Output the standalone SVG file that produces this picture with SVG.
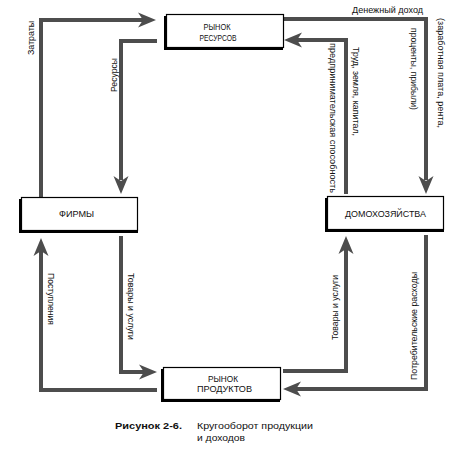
<svg xmlns="http://www.w3.org/2000/svg" xmlns:xlink="http://www.w3.org/1999/xlink" width="457" height="451" viewBox="0 0 457 451">
<style>
.bg{fill:#ffffff}
.shadow{fill:#000000}
.box{fill:#ffffff;stroke:#000000;stroke-width:1.2}
.flow{fill:none;stroke:#4d4d4d;stroke-width:4;stroke-linejoin:miter;stroke-linecap:butt}
.head{fill:#4d4d4d}
.t{font-family:"Liberation Sans",Arial,sans-serif;font-size:9px;fill:#111111}
.n{font-family:"Liberation Sans",Arial,sans-serif;font-size:9px;fill:#111111;text-anchor:middle}
.cap{font-family:"Liberation Sans",Arial,sans-serif;font-size:9.5px;fill:#111111}
.capb{font-family:"Liberation Sans",Arial,sans-serif;font-size:9.5px;font-weight:bold;fill:#111111}
</style>
<defs>
<path id="ah" d="M0,0 L-18,-7.5 L-13,0 L-18,7.5 Z"/>
</defs>
<rect class="bg" x="0" y="0" width="457" height="451"/>

<g id="connectors">
  <path class="flow" d="M41,197 V20 H143"/>
  <use xlink:href="#ah" class="head" transform="translate(156,20)"/>
  <path class="flow" d="M157,41 H121 V180"/>
  <use xlink:href="#ah" class="head" transform="translate(121,194) rotate(90)"/>
  <path class="flow" d="M283,19 H426 V180"/>
  <use xlink:href="#ah" class="head" transform="translate(426,194) rotate(90)"/>
  <path class="flow" d="M346,194 V40 H297"/>
  <use xlink:href="#ah" class="head" transform="translate(284,40) rotate(180)"/>
  <path class="flow" d="M157,390 H41 V251"/>
  <use xlink:href="#ah" class="head" transform="translate(41,238) rotate(-90)"/>
  <path class="flow" d="M121,236 V372 H144"/>
  <use xlink:href="#ah" class="head" transform="translate(157,372) rotate(0)"/>
  <path class="flow" d="M283,371 H346 V249"/>
  <use xlink:href="#ah" class="head" transform="translate(346,236) rotate(-90)"/>
  <path class="flow" d="M426,235 V389 H296"/>
  <use xlink:href="#ah" class="head" transform="translate(283,389) rotate(180)"/>

  <text class="t" transform="translate(34,55) rotate(-90)" textLength="34" lengthAdjust="spacingAndGlyphs">Затраты</text>
  <text class="t" transform="translate(117,92) rotate(-90)" textLength="34" lengthAdjust="spacingAndGlyphs">Ресурсы</text>
  <text class="t" x="352" y="13" textLength="71" lengthAdjust="spacingAndGlyphs">Денежный доход</text>
  <text class="t" transform="translate(438,18) rotate(90)" textLength="110" lengthAdjust="spacingAndGlyphs">(заработная плата, рента,</text>
  <text class="t" transform="translate(411,28) rotate(90)" textLength="82" lengthAdjust="spacingAndGlyphs">проценты, прибыли)</text>
  <text class="t" transform="translate(353,47) rotate(90)" textLength="89" lengthAdjust="spacingAndGlyphs">Труд, земля, капитал,</text>
  <text class="t" transform="translate(330,43) rotate(90)" textLength="150" lengthAdjust="spacingAndGlyphs">предпринимательская способность</text>
  <text class="t" transform="translate(48,273) rotate(90)" textLength="52" lengthAdjust="spacingAndGlyphs">Поступления</text>
  <text class="t" transform="translate(128,273) rotate(90)" textLength="67" lengthAdjust="spacingAndGlyphs">Товары и услуги</text>
  <text class="t" transform="translate(338,340) rotate(-90)" textLength="65" lengthAdjust="spacingAndGlyphs">Товары и услуги</text>
  <text class="t" transform="translate(417,380) rotate(-90)" textLength="108" lengthAdjust="spacingAndGlyphs">Потребительские расходы</text>
</g>

<g id="resource-market">
  <rect class="shadow" x="164" y="16" width="119" height="34"/>
  <rect class="box" x="166.5" y="14.5" width="117" height="33"/>
  <text class="n" x="217" y="30" textLength="27" lengthAdjust="spacingAndGlyphs">РЫНОК</text>
  <text class="n" x="218" y="40.5" textLength="37" lengthAdjust="spacingAndGlyphs">РЕСУРСОВ</text>
</g>

<g id="firms">
  <rect class="shadow" x="19" y="199" width="119" height="34"/>
  <rect class="box" x="21.5" y="197.5" width="116" height="33"/>
  <text class="n" x="76.5" y="216.5" textLength="35" lengthAdjust="spacingAndGlyphs">ФИРМЫ</text>
</g>

<g id="households">
  <rect class="shadow" x="325" y="198" width="119" height="34"/>
  <rect class="box" x="327.5" y="196.5" width="116" height="33"/>
  <text class="n" x="385.5" y="216.5" textLength="81" lengthAdjust="spacingAndGlyphs">ДОМОХОЗЯЙСТВА</text>
</g>

<g id="product-market">
  <rect class="shadow" x="161" y="369" width="119" height="33"/>
  <rect class="box" x="163.5" y="367.5" width="117" height="32"/>
  <text class="n" x="223" y="381.5" textLength="30" lengthAdjust="spacingAndGlyphs">РЫНОК</text>
  <text class="n" x="224.5" y="391.5" textLength="55" lengthAdjust="spacingAndGlyphs">ПРОДУКТОВ</text>
</g>

<g id="caption">
  <text class="capb" x="115" y="429" textLength="67" lengthAdjust="spacingAndGlyphs">Рисунок  2-6.</text>
  <text class="cap" x="197" y="429" textLength="116" lengthAdjust="spacingAndGlyphs">Кругооборот продукции</text>
  <text class="cap" x="197" y="441" textLength="48" lengthAdjust="spacingAndGlyphs">и доходов</text>
</g>
</svg>
